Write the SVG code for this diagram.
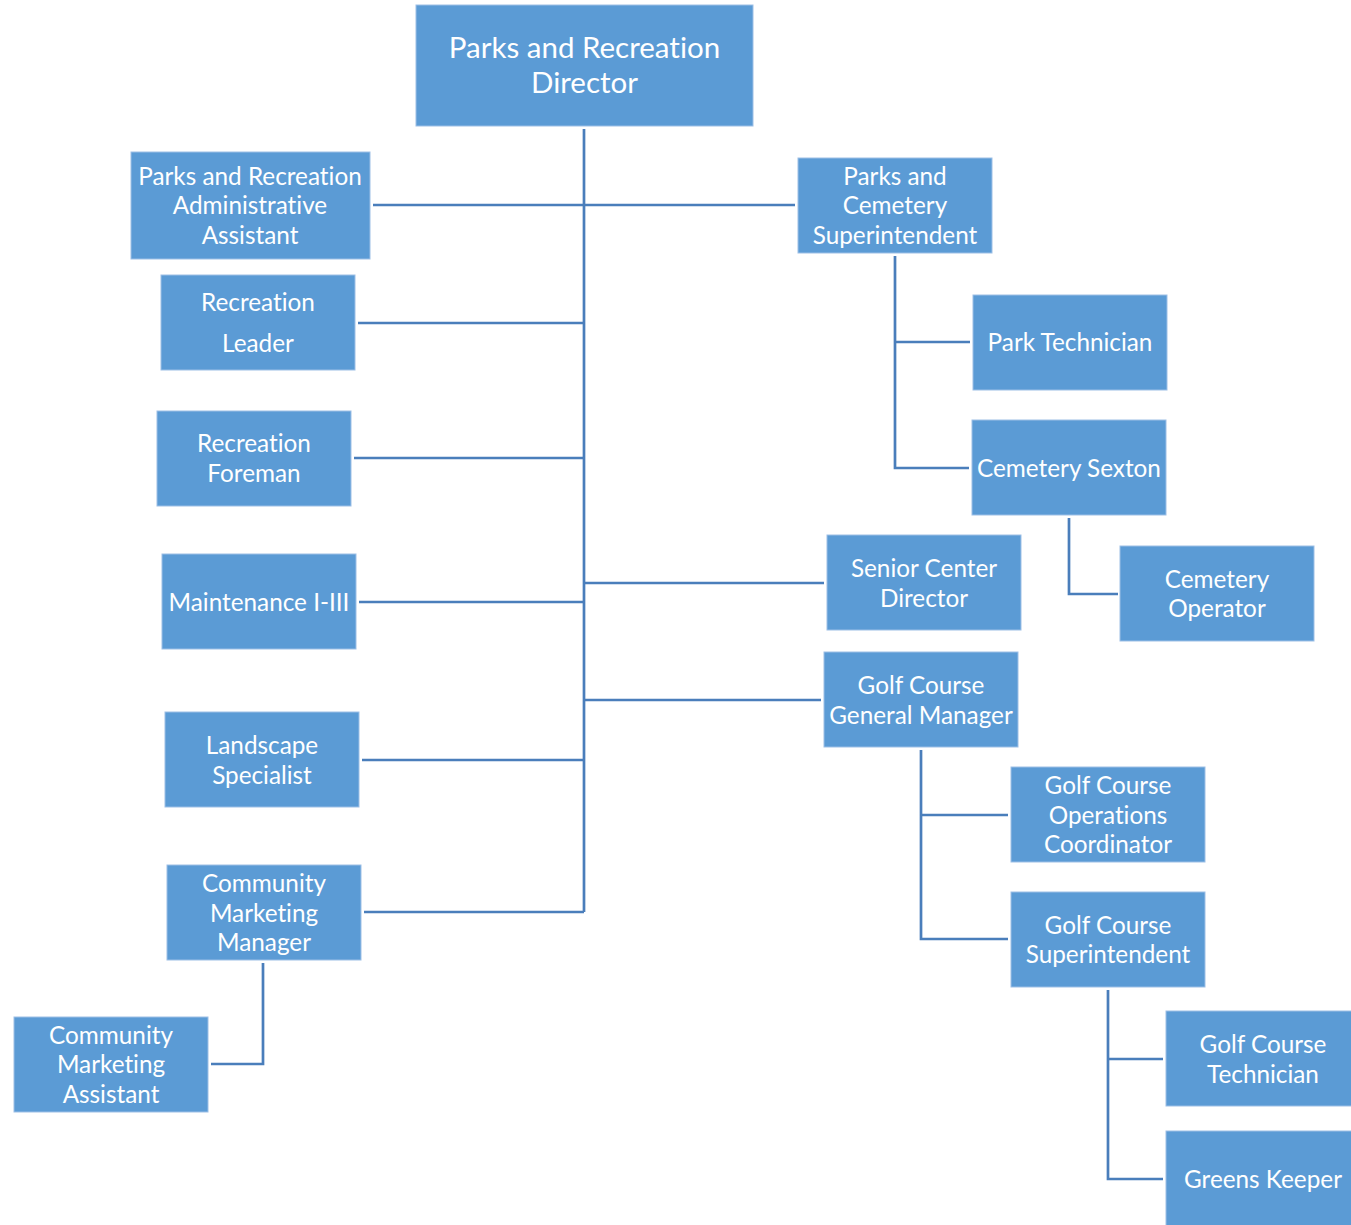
<svg xmlns="http://www.w3.org/2000/svg" width="1351" height="1225" viewBox="0 0 1351 1225">
  <style>
    .box { fill: #5B9BD5; stroke: #9DBFE6; stroke-width: 1; }
    .lbl { fill: #FFFFFF; font-family: Lato, "Open Sans", "Liberation Sans", sans-serif; font-size: 24.3px; text-anchor: middle; dominant-baseline: central; font-variant-ligatures: none; }
    .title { font-size: 29.5px; }
    .wire { fill: none; stroke: #4A7EBB; stroke-width: 2.7; }
  </style>
  <rect width="1351" height="1225" fill="#FFFFFF"/>

  <!-- reporting lines -->
  <g id="connectors">
    <path class="wire" d="M584 129 V912"/>
    <path class="wire" d="M373 205 H795"/>
    <path class="wire" d="M358 323 H584"/>
    <path class="wire" d="M354 458 H584"/>
    <path class="wire" d="M359 602 H584"/>
    <path class="wire" d="M362 760 H584"/>
    <path class="wire" d="M364 912 H584"/>
    <path class="wire" d="M584 583 H824"/>
    <path class="wire" d="M584 700 H821"/>
    <path class="wire" d="M895 256 V468 H969 M895 342 H970"/>
    <path class="wire" d="M1069 518 V594 H1118"/>
    <path class="wire" d="M263 963 V1064 H211"/>
    <path class="wire" d="M921 750 V939 H1008 M921 815 H1008"/>
    <path class="wire" d="M1108 990 V1179 H1163 M1108 1059 H1163"/>
  </g>

  <g id="director">
    <rect class="box" x="416" y="5" width="337" height="121"/>
    <text class="lbl title" x="584.5" y="46">Parks and Recreation</text>
    <text class="lbl title" x="584.5" y="81">Director</text>
  </g>
  <g id="admin-assistant">
    <rect class="box" x="131" y="152" width="239" height="107"/>
    <text class="lbl" x="250" y="175">Parks and Recreation</text>
    <text class="lbl" x="250" y="204">Administrative</text>
    <text class="lbl" x="250" y="234">Assistant</text>
  </g>
  <g id="recreation-leader">
    <rect class="box" x="161" y="275" width="194" height="95"/>
    <text class="lbl" x="258" y="301">Recreation</text>
    <text class="lbl" x="258" y="342">Leader</text>
  </g>
  <g id="recreation-foreman">
    <rect class="box" x="157" y="411" width="194" height="95"/>
    <text class="lbl" x="254" y="442">Recreation</text>
    <text class="lbl" x="254" y="472">Foreman</text>
  </g>
  <g id="maintenance">
    <rect class="box" x="162" y="554" width="194" height="95"/>
    <text class="lbl" x="259" y="601">Maintenance I-III</text>
  </g>
  <g id="landscape-specialist">
    <rect class="box" x="165" y="712" width="194" height="95"/>
    <text class="lbl" x="262" y="744">Landscape</text>
    <text class="lbl" x="262" y="774">Specialist</text>
  </g>
  <g id="marketing-manager">
    <rect class="box" x="167" y="865" width="194" height="95"/>
    <text class="lbl" x="264" y="882">Community</text>
    <text class="lbl" x="264" y="912">Marketing</text>
    <text class="lbl" x="264" y="941">Manager</text>
  </g>
  <g id="marketing-assistant">
    <rect class="box" x="14" y="1017" width="194" height="95"/>
    <text class="lbl" x="111" y="1034">Community</text>
    <text class="lbl" x="111" y="1063">Marketing</text>
    <text class="lbl" x="111" y="1093">Assistant</text>
  </g>
  <g id="cemetery-superintendent">
    <rect class="box" x="798" y="158" width="194" height="95"/>
    <text class="lbl" x="895" y="175">Parks and</text>
    <text class="lbl" x="895" y="204">Cemetery</text>
    <text class="lbl" x="895" y="234">Superintendent</text>
  </g>
  <g id="park-technician">
    <rect class="box" x="973" y="295" width="194" height="95"/>
    <text class="lbl" x="1070" y="341">Park Technician</text>
  </g>
  <g id="cemetery-sexton">
    <rect class="box" x="972" y="420" width="194" height="95"/>
    <text class="lbl" x="1069" y="467">Cemetery Sexton</text>
  </g>
  <g id="cemetery-operator">
    <rect class="box" x="1120" y="546" width="194" height="95"/>
    <text class="lbl" x="1217" y="578">Cemetery</text>
    <text class="lbl" x="1217" y="607">Operator</text>
  </g>
  <g id="senior-center-director">
    <rect class="box" x="827" y="535" width="194" height="95"/>
    <text class="lbl" x="924" y="567">Senior Center</text>
    <text class="lbl" x="924" y="597">Director</text>
  </g>
  <g id="golf-general-manager">
    <rect class="box" x="824" y="652" width="194" height="95"/>
    <text class="lbl" x="921" y="684">Golf Course</text>
    <text class="lbl" x="921" y="714">General Manager</text>
  </g>
  <g id="golf-operations-coordinator">
    <rect class="box" x="1011" y="767" width="194" height="95"/>
    <text class="lbl" x="1108" y="784">Golf Course</text>
    <text class="lbl" x="1108" y="814">Operations</text>
    <text class="lbl" x="1108" y="843">Coordinator</text>
  </g>
  <g id="golf-superintendent">
    <rect class="box" x="1011" y="892" width="194" height="95"/>
    <text class="lbl" x="1108" y="924">Golf Course</text>
    <text class="lbl" x="1108" y="953">Superintendent</text>
  </g>
  <g id="golf-technician">
    <rect class="box" x="1166" y="1011" width="194" height="95"/>
    <text class="lbl" x="1263" y="1043">Golf Course</text>
    <text class="lbl" x="1263" y="1073">Technician</text>
  </g>
  <g id="greens-keeper">
    <rect class="box" x="1166" y="1131" width="194" height="95"/>
    <text class="lbl" x="1263" y="1178">Greens Keeper</text>
  </g>
</svg>
